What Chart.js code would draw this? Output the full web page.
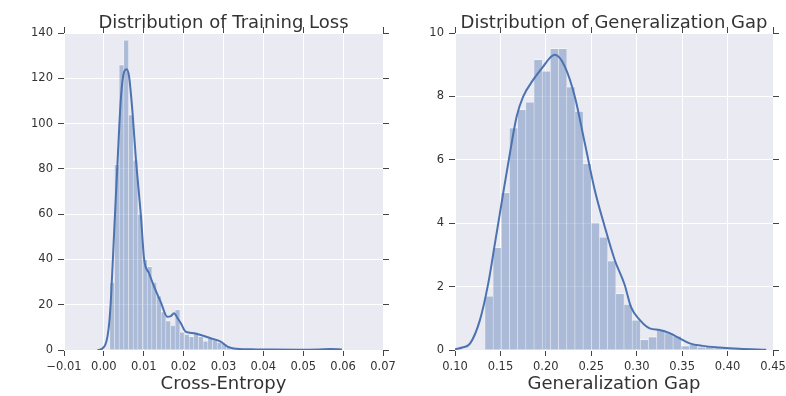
<!DOCTYPE html>
<html>
<head>
<meta charset="utf-8">
<script src="https://cdn.jsdelivr.net/npm/chart.js@4.4.1/dist/chart.umd.min.js"></script>
<style>
  body { margin: 0; background: #fff; }
  #wrap { position: relative; width: 786px; height: 396px; }
  canvas { position: absolute; top: 0; }
</style>
</head>
<body>
<div id="wrap">
  <canvas id="lossChart" width="420" height="396" style="left:0"></canvas>
  <canvas id="gapChart" width="393" height="396" style="left:393px"></canvas>
</div>
<script>
// --- training loss histogram (50 bins) + kde
const lossBinX = [0.00209, 0.00326, 0.00443, 0.00560, 0.00677, 0.00794, 0.00911, 0.01028, 0.01145, 0.01262,
  0.01379, 0.01496, 0.01613, 0.01730, 0.01847, 0.01964, 0.02081, 0.02198, 0.02315, 0.02432,
  0.02549, 0.02666, 0.02783, 0.02900, 0.03017, 0.03134, 0.03251, 0.03368, 0.03485, 0.03602,
  0.03719, 0.03836, 0.03953, 0.04070, 0.04187, 0.04304, 0.04421, 0.04538, 0.04655, 0.04772,
  0.04889, 0.05006, 0.05123, 0.05240, 0.05357, 0.05474, 0.05591, 0.05708, 0.05825, 0.05942];
const lossBinY = [30, 82, 126, 137, 104, 84, 60, 40, 37, 30,
  24, 17, 13, 11, 18, 8, 7, 6, 8, 6,
  4, 5.5, 5, 3.5, 3, 1.8, 1.2, 0.8, 0.6, 0.5,
  0.4, 0.3, 0.4, 0.2, 0.3, 0.2, 0.2, 0.1, 0.2, 0.1,
  0.2, 0.1, 0.1, 0.2, 0.1, 0.2, 0.3, 0.4, 0.3, 0.2];
const lossCurveX = [-0.0016, -0.0008, -0.0003, 0.0004, 0.0009, 0.0014, 0.0018, 0.0026, 0.0034, 0.0043,
  0.0051, 0.0057, 0.0063, 0.0072, 0.008, 0.0093, 0.0101, 0.0113, 0.0126, 0.0143,
  0.0159, 0.0168, 0.0176, 0.0185, 0.0193, 0.0205, 0.0226, 0.0243, 0.0268, 0.0293,
  0.031, 0.0326, 0.0368, 0.042, 0.049, 0.054, 0.0568, 0.0597];
const lossCurveY = [0, 0.2, 0.75, 2.5, 5.9, 13, 23.5, 53, 82, 112,
  123, 124, 121, 104.5, 85, 59, 40, 34, 28, 21,
  14.7, 15, 16.2, 14, 11.8, 8.1, 7.4, 6.6, 5.2, 3.7,
  1.5, 0.7, 0.3, 0.2, 0.15, 0.25, 0.4, 0.2];
const lossTicksX = [-0.01, 0, 0.01, 0.02, 0.03, 0.04, 0.05, 0.06, 0.07];
const lossTicksY = [0, 20, 40, 60, 80, 100, 120, 140];

// --- generalization gap histogram (34 bins) + kde
const gapBinX = [0.1375, 0.1465, 0.1555, 0.1645, 0.1735, 0.1825, 0.1915, 0.2005, 0.2095, 0.2185,
  0.2275, 0.2365, 0.2455, 0.2545, 0.2635, 0.2725, 0.2815, 0.2905, 0.2995, 0.3085,
  0.3175, 0.3265, 0.3355, 0.3445, 0.3535, 0.3625, 0.3715, 0.3805, 0.3895, 0.3985,
  0.4075, 0.4165, 0.4255, 0.4345];
const gapBinY = [1.71, 3.24, 4.97, 7.02, 7.59, 7.83, 9.17, 8.81, 9.52, 9.52,
  8.31, 7.54, 5.89, 4.02, 3.57, 2.82, 1.79, 1.45, 0.95, 0.34,
  0.42, 0.66, 0.55, 0.45, 0.14, 0.19, 0.1, 0.12, 0.08, 0.1,
  0.05, 0.04, 0.03, 0.02];
const gapCurveX = [0.100, 0.108, 0.1165, 0.1275, 0.1366, 0.144, 0.153, 0.1604, 0.1678, 0.175,
  0.186, 0.197, 0.204, 0.2099, 0.2209, 0.2319, 0.2429, 0.2538, 0.2648, 0.2758,
  0.2868, 0.2935, 0.3033, 0.3143, 0.3253, 0.3363, 0.3473, 0.3583, 0.3725, 0.391,
  0.413, 0.4425];
const gapCurveY = [0.02, 0.08, 0.2, 0.95, 2.1, 3.37, 4.94, 6.2, 7.36, 7.99,
  8.52, 8.94, 9.2, 9.31, 8.94, 7.99, 6.52, 5.05, 3.89, 2.84,
  2.05, 1.37, 0.95, 0.68, 0.63, 0.53, 0.37, 0.21, 0.13, 0.08,
  0.04, 0.01];
const gapTicksX = [0.10, 0.15, 0.20, 0.25, 0.30, 0.35, 0.40, 0.45];
const gapTicksY = [0, 2, 4, 6, 8, 10];

const FONT = "'DejaVu Sans', sans-serif";
const TEXT = '#333';
const TICK = '#444';
const lineBlue = '#4C72B0';
const barBlue = 'rgba(76,114,176,0.4)';

const bgPlugin = {
  id: 'bg',
  beforeDraw(chart) {
    const a = chart.chartArea, ctx = chart.ctx;
    ctx.save();
    ctx.fillStyle = '#EAEAF2';
    ctx.fillRect(a.left, a.top, a.right - a.left, a.bottom - a.top);
    ctx.restore();
  }
};

function setTicks(list) {
  return s => { s.ticks = list.map(v => ({ value: v })); };
}

// pin an axis' size and drop the extra room Chart.js keeps for edge labels
function pinSize(prop, size) {
  return s => {
    s[prop] = size;
    s.paddingLeft = 0; s.paddingRight = 0; s.paddingTop = 0; s.paddingBottom = 0;
  };
}

function histChart(id, o) {
  const toXY = (xs, ys) => xs.map((x, i) => ({ x: x, y: ys[i] }));
  const grid = { color: '#fff', lineWidth: 1, offset: false, tickColor: TICK, tickLength: 6, tickWidth: 1 };
  const sideGrid = { drawOnChartArea: false, offset: false, tickColor: TICK, tickLength: 6, tickWidth: 1 };
  const tickFont = { family: FONT, size: 11.5 };
  const xMin = o.xTicks[0], xMax = o.xTicks[o.xTicks.length - 1];
  const yMax = o.yTicks[o.yTicks.length - 1];

  return new Chart(document.getElementById(id), {
    type: 'bar',
    data: {
      datasets: [{
        type: 'line',
        data: toXY(o.curveX, o.curveY),
        borderColor: lineBlue,
        borderWidth: 2,
        pointRadius: 0,
        fill: false,
        cubicInterpolationMode: 'monotone',
        order: 0
      }, {
        type: 'bar',
        data: toXY(o.binX, o.binY),
        backgroundColor: barBlue,
        borderColor: 'rgba(255,255,255,0.45)',
        borderWidth: { top: 1, left: 0.5, right: 0.5, bottom: 0 },
        borderSkipped: false,
        barPercentage: 1,
        categoryPercentage: 1,
        order: 1
      }]
    },
    options: {
      responsive: false,
      animation: false,
      devicePixelRatio: 1,
      layout: { padding: 0 },
      plugins: {
        legend: { display: false },
        tooltip: { enabled: false },
        title: {
          display: true,
          fullSize: false,
          text: o.title,
          color: TEXT,
          font: { family: FONT, size: 18, weight: 'normal', lineHeight: 1 },
          padding: { top: 14, bottom: 0 }
        }
      },
      scales: {
        x: {
          type: 'linear', position: 'bottom', min: xMin, max: xMax, offset: false,
          afterBuildTicks: setTicks(o.xTicks),
          afterFit: pinSize('height', 46),
          grid: grid,
          border: { display: false },
          ticks: { font: tickFont, color: TEXT, padding: 4, maxRotation: 0, autoSkip: false, callback: o.xFmt },
          title: { display: true, text: o.xTitle, color: TEXT, font: { family: FONT, size: 18, lineHeight: 1 }, padding: { top: 0, bottom: 2.4 } }
        },
        x2: {
          type: 'linear', axis: 'x', position: 'top', min: xMin, max: xMax, offset: false,
          afterBuildTicks: setTicks(o.xTicks),
          afterFit: pinSize('height', 1),
          grid: sideGrid,
          border: { display: false },
          ticks: { display: false }
        },
        y: {
          type: 'linear', position: 'left', min: 0, max: yMax,
          afterBuildTicks: setTicks(o.yTicks),
          afterFit: pinSize('width', o.left),
          grid: grid,
          border: { display: false },
          ticks: { font: tickFont, color: TEXT, padding: 5, callback: v => String(v) }
        },
        y2: {
          type: 'linear', axis: 'y', position: 'right', min: 0, max: yMax,
          afterBuildTicks: setTicks(o.yTicks),
          afterFit: pinSize('width', o.right),
          grid: sideGrid,
          border: { display: false },
          ticks: { display: false }
        }
      }
    },
    plugins: [bgPlugin]
  });
}

histChart('lossChart', {
  title: 'Distribution of Training Loss',
  xTitle: 'Cross-Entropy',
  binX: lossBinX, binY: lossBinY,
  curveX: lossCurveX, curveY: lossCurveY,
  xTicks: lossTicksX, yTicks: lossTicksY,
  xFmt: v => (v < 0 ? '\u2212' : '') + Math.abs(v).toFixed(2),
  left: 64, right: 37
});

histChart('gapChart', {
  title: 'Distribution of Generalization Gap',
  xTitle: 'Generalization Gap',
  binX: gapBinX, binY: gapBinY,
  curveX: gapCurveX, curveY: gapCurveY,
  xTicks: gapTicksX, yTicks: gapTicksY,
  xFmt: v => v.toFixed(2),
  left: 62, right: 13
});
</script>
</body>
</html>
